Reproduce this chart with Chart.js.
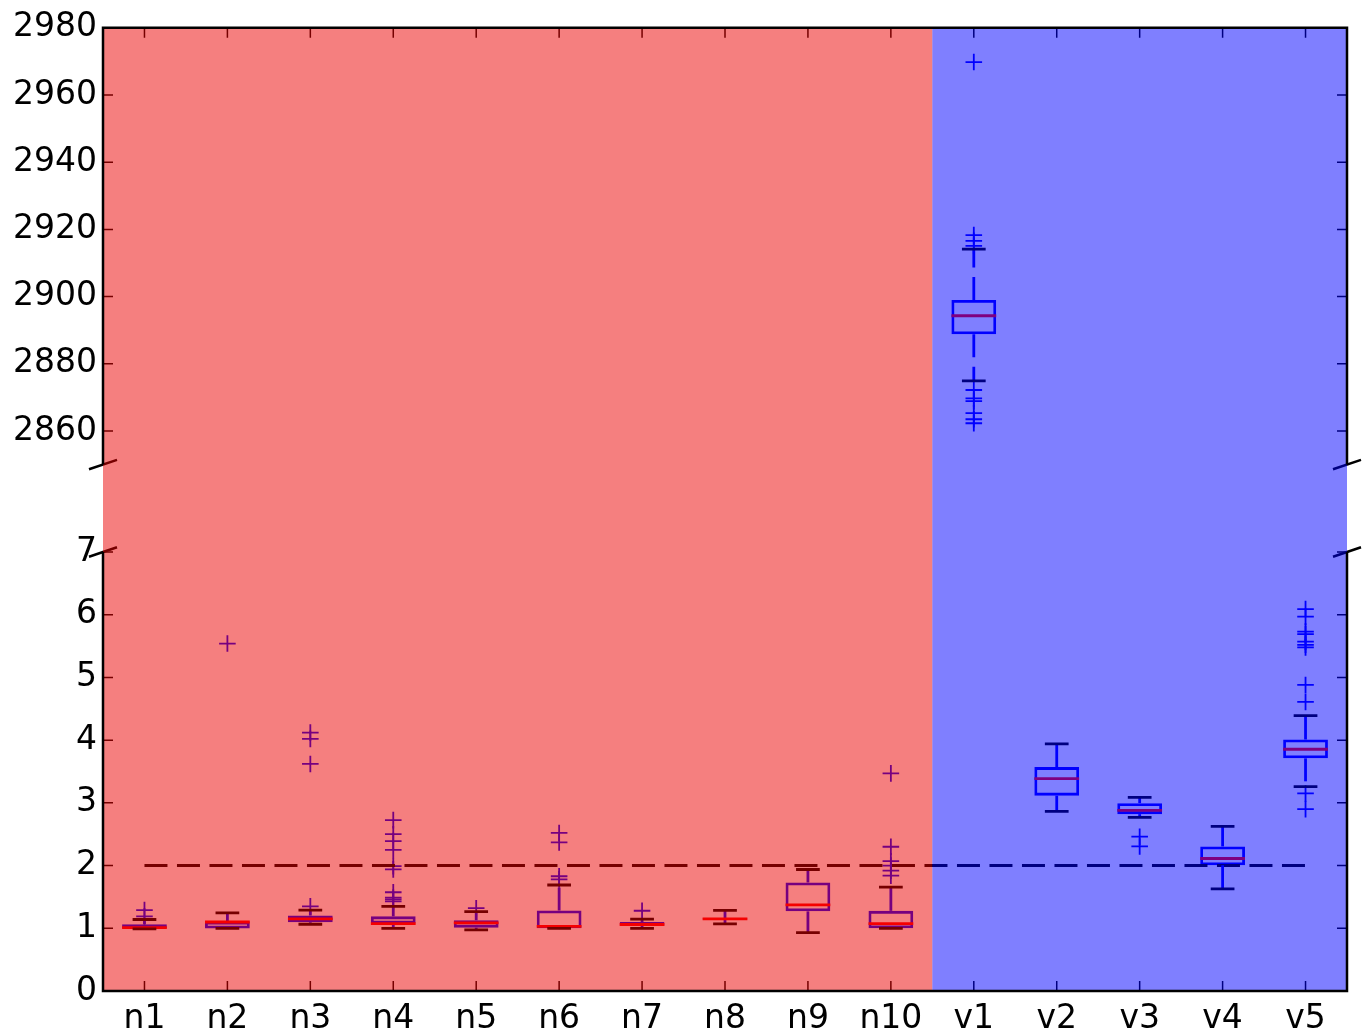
<!DOCTYPE html>
<html><head><meta charset="utf-8">
<script src="https://cdn.jsdelivr.net/npm/chart.js@4.4.1/dist/chart.umd.min.js"></script>
<style>
html,body{margin:0;padding:0;background:#fff;width:1363px;height:1034px;overflow:hidden}
.wrap{position:absolute;left:0;width:1363px}
canvas{display:block}
</style></head><body>
<div class="wrap" style="top:0;height:508px"><canvas id="topChart" width="1363" height="508"></canvas></div>
<div class="wrap" style="top:508px;height:526px"><canvas id="botChart" width="1363" height="526"></canvas></div>
<script>
// ---------------- data ----------------
const categories = ['n1','n2','n3','n4','n5','n6','n7','n8','n9','n10','v1','v2','v3','v4','v5'];
const whiskerLow  = [0.99, 1.00, 1.064, 1.00, 0.975, 1.00, 1.00, 1.07, 0.93, 1.00, 2874.9, 2.865, 2.77, 1.63, 3.26];
const q1          = [1.00, 0.995, 1.096, 1.075, 1.01, 1.00, 1.043, 1.14, 1.27, 1.00, 2888.8, 3.115, 2.82, 2.006, 3.71];
const median      = [1.01, 1.10, 1.15, 1.075, 1.086, 1.03, 1.06, 1.15, 1.374, 1.075, 2894.3, 3.387, 2.88, 2.113, 3.855];
const q3          = [1.064, 1.107, 1.203, 1.19, 1.128, 1.283, 1.10, 1.16, 1.73, 1.278, 2899.0, 3.57, 2.995, 2.305, 4.01];
const whiskerHigh = [1.14, 1.245, 1.288, 1.35, 1.267, 1.69, 1.145, 1.287, 1.937, 1.655, 2914.1, 3.94, 3.088, 2.625, 4.39];
const fliers = [
  [1.19, 1.29],
  [5.54],
  [1.35, 3.62, 4.02, 4.12],
  [1.43, 1.46, 1.49, 1.575, 1.94, 1.99, 2.25, 2.39, 2.50, 2.725],
  [1.32],
  [1.78, 1.83, 2.37, 2.52],
  [1.28],
  [],
  [],
  [1.84, 1.92, 2.0, 2.07, 2.30, 3.47],
  [2862.3, 2863.5, 2865.3, 2868.9, 2869.7, 2872.2, 2915.1, 2916.6, 2918.3, 2969.8],
  [],
  [2.305, 2.46],
  [],
  [2.90, 3.15, 4.61, 4.88, 5.48, 5.52, 5.57, 5.69, 5.73, 5.97, 6.09]
];
const refLineX = ['n1', 'v5'];
const refLineY = [2, 2];
const topTicks = [2860, 2880, 2900, 2920, 2940, 2960, 2980];
const topRange = [2850, 2980];
const bottomTicks = [0, 1, 2, 3, 4, 5, 6, 7];
const bottomRange = [0, 7];
const spanFrom = [-0.5, 9.5];
const spanTo = [9.5, 14.5];
const spanColors = ['rgba(235,0,0,0.5)', 'rgba(0,0,255,0.5)'];

// ---------------- drawing ----------------
const FONT = 'DejaVu Sans';
const fontSpec = {family: FONT, size: 33};
const LW = 2.8;

function boxPartsPlugin(isTop, tickVals) {
  return {
    id: 'boxParts',
    afterDatasetsDraw(chart) {
      const {ctx, chartArea: a, scales: {x, y}} = chart;
      const meta = chart.getDatasetMeta(0);
      ctx.save();
      ctx.beginPath();
      ctx.rect(a.left, a.top, a.right - a.left, a.bottom - a.top);
      ctx.clip();
      ctx.lineCap = 'butt';
      meta.data.forEach((el, i) => {
        const cx = el.x, w = el.width;
        // whiskers (dashed, blue)
        ctx.strokeStyle = '#0000ff';
        ctx.lineWidth = LW;
        ctx.setLineDash([23, 9.5]);
        ctx.beginPath();
        ctx.moveTo(cx, y.getPixelForValue(q3[i]));
        ctx.lineTo(cx, y.getPixelForValue(whiskerHigh[i]));
        ctx.stroke();
        ctx.beginPath();
        ctx.moveTo(cx, y.getPixelForValue(q1[i]));
        ctx.lineTo(cx, y.getPixelForValue(whiskerLow[i]));
        ctx.stroke();
        ctx.setLineDash([]);
        // median (red)
        ctx.strokeStyle = '#ff0000';
        ctx.lineWidth = LW;
        ctx.beginPath();
        const my = y.getPixelForValue(median[i]);
        ctx.moveTo(cx - w / 2, my);
        ctx.lineTo(cx + w / 2, my);
        ctx.stroke();
        // caps (black)
        const cw = w * 0.53;
        ctx.strokeStyle = '#000000';
        ctx.lineWidth = LW;
        ctx.beginPath();
        const hy = y.getPixelForValue(whiskerHigh[i]);
        const ly = y.getPixelForValue(whiskerLow[i]);
        ctx.moveTo(cx - cw / 2, hy); ctx.lineTo(cx + cw / 2, hy);
        ctx.moveTo(cx - cw / 2, ly); ctx.lineTo(cx + cw / 2, ly);
        ctx.stroke();
      });
      ctx.restore();

      ctx.save();
      // inward tick marks
      ctx.strokeStyle = '#000';
      ctx.lineWidth = 1.5;
      ctx.beginPath();
      tickVals.forEach(v => {
        const py = y.getPixelForValue(v);
        ctx.moveTo(a.left, py); ctx.lineTo(a.left + 10, py);
        ctx.moveTo(a.right, py); ctx.lineTo(a.right - 10, py);
      });
      categories.forEach((c, i) => {
        const px = x.getPixelForValue(i);
        if (isTop) { ctx.moveTo(px, a.top); ctx.lineTo(px, a.top + 10); }
        else { ctx.moveTo(px, a.bottom); ctx.lineTo(px, a.bottom - 10); }
      });
      ctx.stroke();
      // break marks
      ctx.lineWidth = 2.5;
      ctx.beginPath();
      const by = isTop ? a.bottom : a.top;
      [a.left, a.right].forEach(bx => {
        ctx.moveTo(bx - 14, by + 4.7);
        ctx.lineTo(bx + 14, by - 4.7);
      });
      ctx.stroke();
      // translucent spans over everything
      const yTop = isTop ? a.top : 0;
      const yBot = isTop ? chart.height : a.bottom;
      spanFrom.forEach((s, k) => {
        const x0 = Math.max(a.left, x.getPixelForValue(s));
        const x1 = Math.min(a.right, x.getPixelForValue(spanTo[k]));
        ctx.fillStyle = spanColors[k];
        ctx.fillRect(x0, yTop, x1 - x0, yBot - yTop);
      });
      // spines
      ctx.strokeStyle = '#000';
      ctx.lineWidth = 2.5;
      ctx.beginPath();
      ctx.moveTo(a.left, a.top); ctx.lineTo(a.left, a.bottom);
      ctx.moveTo(a.right, a.top); ctx.lineTo(a.right, a.bottom);
      if (isTop) { ctx.moveTo(a.left - 1.25, a.top); ctx.lineTo(a.right + 1.25, a.top); }
      else { ctx.moveTo(a.left - 1.25, a.bottom); ctx.lineTo(a.right + 1.25, a.bottom); }
      ctx.stroke();
      ctx.restore();
    }
  };
}

function makeChart(id, isTop, range, tickVals, padding) {
  const flierPoints = [];
  fliers.forEach((arr, i) => arr.forEach(v => flierPoints.push({x: categories[i], y: v})));
  return new Chart(document.getElementById(id), {
    data: {
      labels: categories,
      datasets: [
        {
          type: 'bar',
          data: categories.map((c, i) => [q1[i], q3[i]]),
          backgroundColor: 'rgba(0,0,0,0)',
          borderColor: '#0000ff',
          borderWidth: LW,
          borderSkipped: false,
          barPercentage: 0.54,
          categoryPercentage: 1.0,
          clip: 0,
          order: 3
        },
        {
          type: 'scatter',
          data: flierPoints,
          pointStyle: 'cross',
          pointRadius: 8.3,
          pointBorderWidth: 1.8,
          pointBorderColor: '#0000ff',
          borderColor: '#0000ff',
          showLine: false,
          clip: 0,
          order: 2
        },
        {
          type: 'line',
          data: refLineX.map((c, k) => ({x: c, y: refLineY[k]})),
          borderColor: '#000000',
          borderWidth: 3,
          borderDash: [23, 9.5],
          pointRadius: 0,
          fill: false,
          clip: 0,
          order: 1
        }
      ]
    },
    options: {
      responsive: false,
      animation: false,
      events: [],
      layout: {padding: padding},
      plugins: {legend: {display: false}, tooltip: {enabled: false}},
      scales: {
        x: {
          type: 'category',
          labels: categories,
          offset: true,
          display: !isTop,
          grid: {display: false, drawTicks: false},
          border: {display: false},
          ticks: {font: fontSpec, color: '#000', padding: 9, maxRotation: 0, autoSkip: false},
          afterFit: s => { s.height = isTop ? 0 : 43; }
        },
        y: {
          type: 'linear',
          min: range[0],
          max: range[1],
          grid: {display: false, drawTicks: false},
          border: {display: false},
          ticks: {font: fontSpec, color: '#000', padding: 6, callback: v => String(v)},
          afterBuildTicks: s => { s.ticks = tickVals.map(v => ({value: v})); },
          afterFit: s => { s.width = 103; }
        }
      }
    },
    plugins: [boxPartsPlugin(isTop, tickVals)]
  });
}

makeChart('topChart', true, topRange, topTicks, {top: 27.8, bottom: 43.4, left: 0, right: 16});
makeChart('botChart', false, bottomRange, bottomTicks, {top: 44, bottom: 0, left: 0, right: 16});
</script>
</body></html>
